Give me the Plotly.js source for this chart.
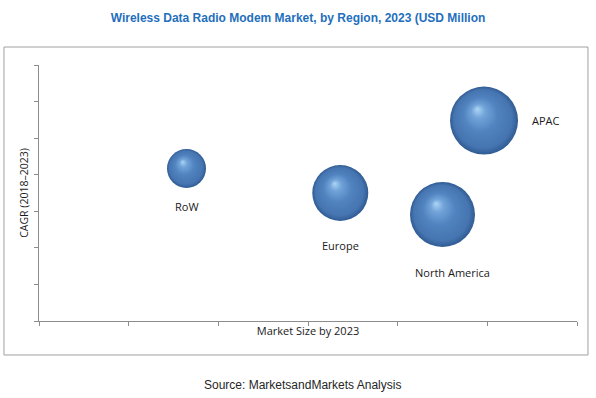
<!DOCTYPE html>
<html>
<head>
<meta charset="utf-8">
<script src="https://cdn.plot.ly/plotly-3.0.1.min.js"></script>
<style>
  html, body { margin: 0; padding: 0; background: #fff; }
  #chart { width: 596px; height: 398px; }
</style>
</head>
<body>
<div id="chart"></div>
<script>
// ---- data ----
const regions = ['RoW', 'Europe', 'North America', 'APAC'];
const marketSize = [1.645, 3.36, 4.50, 4.963];   // x (relative units)
const cagr = [4.17, 3.50, 2.91, 5.48];            // y (relative units)
const bubbleSize = [39, 56, 65, 68];              // bubble diameter (relative)
const xTicks = [0, 1, 2, 3, 4, 5, 6];
const yTicks = [0, 1, 2, 3, 4, 5, 6, 7];

// label offsets (styling, px)
const labelShiftX = [0, 0, 10, 62];
const labelShiftY = [-38, -52, -58, 0];

const trace = {
  type: 'scatter',
  mode: 'markers',
  x: marketSize,
  y: cagr,
  text: regions,
  hoverinfo: 'text',
  marker: {
    size: bubbleSize,
    sizemode: 'diameter',
    sizeref: 1,
    color: '#345f96',
    gradient: { type: 'radial', color: '#b5dcf8' },
    line: { width: 0 },
    opacity: 1
  },
  showlegend: false
};

const labelFont = { family: '"Open Sans", "DejaVu Sans", sans-serif', size: 11, color: '#1a1a1a' };
const annotations = regions.map((r, i) => ({
  x: marketSize[i], y: cagr[i], xref: 'x', yref: 'y',
  text: r, showarrow: false,
  xshift: labelShiftX[i], yshift: labelShiftY[i],
  font: labelFont
}));
annotations.push({
  xref: 'paper', yref: 'paper', x: 0.4907, y: -0.25,
  xanchor: 'center', yanchor: 'middle',
  text: 'Source: MarketsandMarkets Analysis', showarrow: false,
  font: { family: 'Arial, "Liberation Sans", sans-serif', size: 12, color: '#262626' }
});

const axisCommon = {
  showgrid: false, zeroline: false, showticklabels: false,
  showline: true, linecolor: '#8c8c8c', linewidth: 1,
  ticks: 'outside', ticklen: 4, tickcolor: '#8c8c8c', tickwidth: 1,
  tickmode: 'array', fixedrange: true
};

const layout = {
  width: 596, height: 398,
  margin: { l: 39, r: 19, t: 65, b: 77 },
  paper_bgcolor: '#ffffff', plot_bgcolor: '#ffffff',
  title: {
    text: 'Wireless Data Radio Modem Market, by Region, 2023 (USD Million',
    x: 0.5, xanchor: 'center', xref: 'container',
    y: 1 - 17.5 / 398, yanchor: 'middle', yref: 'container',
    font: { family: '"Liberation Sans Narrow", "Arial Narrow", Arial, sans-serif', size: 12, color: '#1f6fbd', weight: 'bold' }
  },
  xaxis: Object.assign({}, axisCommon, {
    range: [xTicks[0], xTicks[xTicks.length - 1]], tickvals: xTicks,
    title: { text: 'Market Size by 2023', standoff: 2, font: labelFont }
  }),
  yaxis: Object.assign({}, axisCommon, {
    range: [yTicks[0], yTicks[yTicks.length - 1]], tickvals: yTicks,
    title: { text: 'CAGR (2018–2023)', standoff: 3, font: { family: labelFont.family, size: 10.5, color: labelFont.color } }
  }),
  shapes: [{
    type: 'rect', xref: 'paper', yref: 'paper',
    x0: -0.0651, x1: 1.0204, y0: -0.1328, y1: 1.0703,
    line: { color: '#a0a0a0', width: 1 }, fillcolor: 'rgba(0,0,0,0)', layer: 'below'
  }],
  annotations: annotations
};

Plotly.newPlot('chart', [trace], layout, { displayModeBar: false, staticPlot: true }).then(() => {
  // give the bubbles an off-centre highlight like a lit sphere
  document.querySelectorAll('#chart radialGradient').forEach(g => {
    g.setAttribute('cx', '0.5'); g.setAttribute('cy', '0.5'); g.setAttribute('r', '0.5');
    g.setAttribute('fx', '0.4'); g.setAttribute('fy', '0.33');
    while (g.firstChild) g.removeChild(g.firstChild);
    const stops = [[0, '#acd6f6'], [0.2, '#72a3d9'], [0.5, '#5083bf'], [0.85, '#4675b1'], [1, '#305b92']];
    stops.forEach(([o, c]) => {
      const s = document.createElementNS('http://www.w3.org/2000/svg', 'stop');
      s.setAttribute('offset', o);
      s.setAttribute('stop-color', c);
      g.appendChild(s);
    });
  });
});
</script>
</body>
</html>
